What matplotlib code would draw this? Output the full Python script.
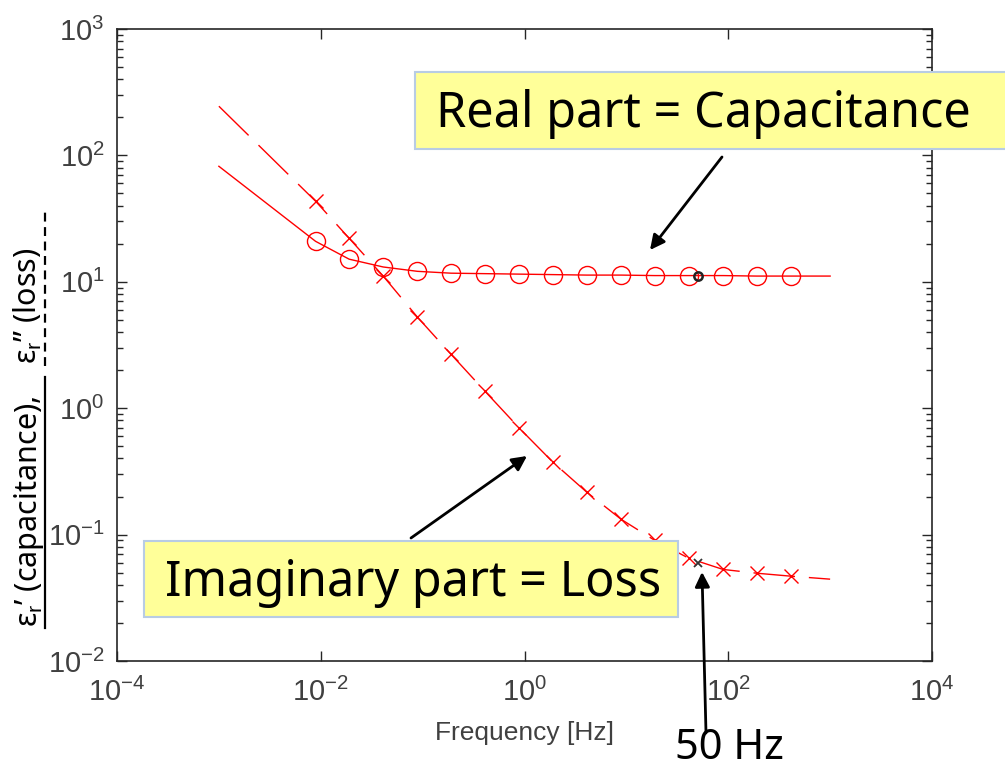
import matplotlib
matplotlib.use("Agg")
import matplotlib.pyplot as plt
from matplotlib.patches import Rectangle, FancyArrowPatch
from matplotlib.lines import Line2D
from matplotlib.ticker import LogLocator, NullLocator

plt.rcParams['font.family'] = ['Liberation Sans', 'DejaVu Sans']
plt.rcParams['mathtext.fontset'] = 'custom'
plt.rcParams['mathtext.rm'] = 'Liberation Sans'
plt.rcParams['mathtext.it'] = 'Liberation Sans:italic'
plt.rcParams['axes.unicode_minus'] = False

# frequencies of the markers [Hz]
freq = [0.0089, 0.019, 0.041, 0.089, 0.19, 0.41, 0.89, 1.9, 4.1, 8.9, 19, 41, 89, 190, 410]
eps_real = [20.9, 15.1, 13.1, 12.1, 11.7, 11.6, 11.5, 11.4, 11.3, 11.3, 11.2, 11.2, 11.2, 11.1, 11.1]
eps_imag = [43.4, 22.1, 11.1, 5.25, 2.67, 1.36, 0.695, 0.374, 0.216, 0.132, 0.090, 0.065, 0.053, 0.0495, 0.0469]

# curve end points (line runs 1 mHz .. 1 kHz)
f_start, f_end = 0.001, 1000
real_start, real_end = 82, 11.1
imag_start, imag_end = 245, 0.0444

# 50 Hz reading
f50 = 50
real50 = 11.2
imag50 = 0.0596

line_f = [f_start] + freq + [f_end]
line_real = [real_start] + eps_real + [real_end]
line_imag = [imag_start] + eps_imag + [imag_end]

W, H = 1005, 770
fig = plt.figure(figsize=(W / 100, H / 100), dpi=100)
ax = fig.add_axes([117 / W, 1 - 661 / H, 815 / W, 632 / H])

def fx(px):
    return px / W

def fy(py):
    return 1 - py / H

red = '#ff0000'
ax.plot(line_f, line_real, color=red, lw=1.0)
ax.plot(freq, eps_real, 'o', color=red, mfc='none', ms=13, mew=1.0)
ax.plot(line_f, line_imag, color=red, lw=1.0, linestyle=(0, (30, 10)))
ax.plot(freq, eps_imag, 'x', color=red, ms=10, mew=1.0)
ax.plot([f50], [imag50], 'x', color='#333333', ms=6, mew=1.3)
ax.plot([f50], [real50], 'o', color='#222222', mfc='none', ms=6, mew=1.8)

ax.set_xscale('log')
ax.set_yscale('log')
ax.set_xlim(1e-4, 1e4)
ax.set_ylim(1e-2, 1e3)
ax.set_xticks([1e-4, 1e-2, 1e0, 1e2, 1e4])
ax.xaxis.set_minor_locator(NullLocator())
ax.yaxis.set_major_locator(LogLocator(base=10, numticks=10))
ax.yaxis.set_minor_locator(LogLocator(base=10, subs=range(2, 10), numticks=10))

for s in ax.spines.values():
    s.set_linewidth(1.2)
    s.set_color('#262626')
ax.tick_params(which='both', direction='in', top=True, right=True, color='#262626',
               labelsize=21, labelcolor='#404040')
ax.tick_params(which='major', length=7, width=1.0, pad=9)
ax.tick_params(axis='x', which='major', pad=12)
ax.tick_params(which='minor', length=4, width=1.0)
ax.set_xlabel('Frequency [Hz]', fontsize=19, color='#404040', labelpad=10)

# y label with solid / dashed underline
lab_kw = dict(rotation=90, rotation_mode='anchor', ha='left', va='baseline',
              fontsize=22, family='Noto Sans', color='black')
fig.text(fx(37), fy(627), 'ε$_\\mathrm{r}$’ (capacitance),', **lab_kw)
fig.text(fx(37), fy(364), 'ε$_\\mathrm{r}$” (loss)', **lab_kw)
fig.add_artist(Line2D([fx(45), fx(45)], [fy(628), fy(377)], color='black', lw=1.6))
fig.add_artist(Line2D([fx(45), fx(45)], [fy(366), fy(210)], color='black', lw=1.6,
                      linestyle=(0, (4, 2.5))))

# callout boxes
box_kw = dict(transform=fig.transFigure, facecolor='#ffff99', edgecolor='#b8cce4', lw=1.5, zorder=5)
fig.add_artist(Rectangle((fx(415), fy(149)), fx(1010) - fx(415), fy(72) - fy(149), **box_kw))
fig.add_artist(Rectangle((fx(144), fy(617)), fx(678) - fx(144), fy(541) - fy(617), **box_kw))

txt_kw = dict(fontsize=35, family='Noto Sans', color='black', zorder=6, va='baseline', ha='left')
fig.text(fx(436), fy(127), 'Real part = Capacitance', **txt_kw)
fig.text(fx(165), fy(596), 'Imaginary part = Loss', **txt_kw)
fig.text(fx(675), fy(769), '50 Hz', fontsize=30, family='Noto Sans', color='black',
         va='bottom', ha='left')

arr = dict(arrowstyle='-|>', color='black', lw=2, mutation_scale=22, shrinkA=0, shrinkB=0)
fig.add_artist(FancyArrowPatch((fx(722), fy(157)), (fx(650), fy(250)),
                               transform=fig.transFigure, zorder=7, **arr))
fig.add_artist(FancyArrowPatch((fx(411), fy(538)), (fx(527), fy(456)),
                               transform=fig.transFigure, zorder=7, **arr))
fig.add_artist(FancyArrowPatch((fx(706), fy(733)), (fx(702), fy(572)),
                               transform=fig.transFigure, zorder=7, **arr))

fig.savefig('out.png', dpi=100)
